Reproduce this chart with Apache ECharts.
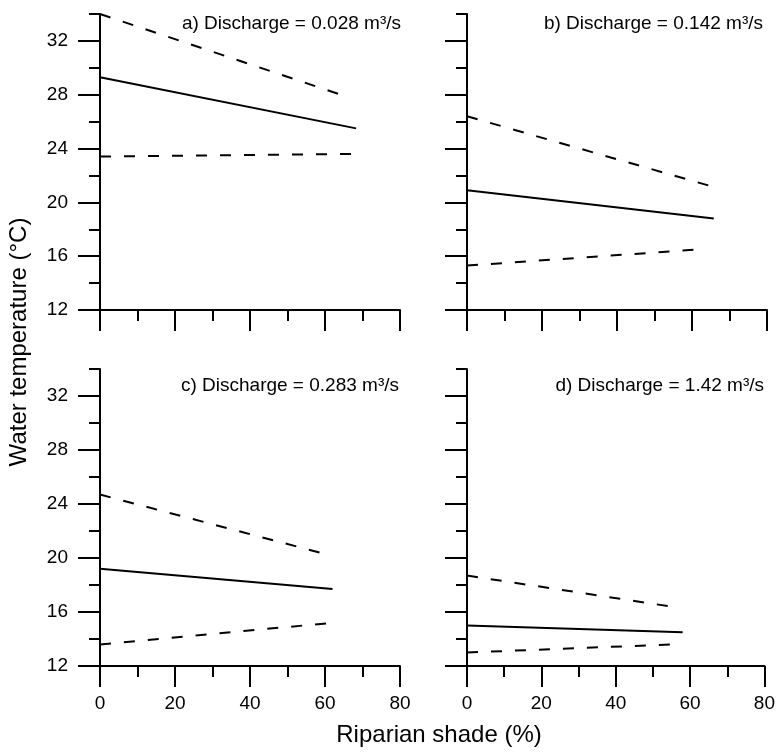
<!DOCTYPE html>
<html>
<head>
<meta charset="utf-8">
<script src="https://cdn.jsdelivr.net/npm/echarts@6/dist/echarts.min.js"></script>
<style>
  html, body { margin: 0; padding: 0; background: #fff; }
  #chart { width: 778px; height: 752px; }
</style>
</head>
<body>
<div id="chart"></div>
<script>
// axis ticks
const xTicks = [0, 20, 40, 60, 80];
const yTicks = [12, 16, 20, 24, 28, 32];
const yMinorTicks = [14, 18, 22, 26, 30, 34];

const panelLabels = [
  "a) Discharge = 0.028 m³/s",
  "b) Discharge = 0.142 m³/s",
  "c) Discharge = 0.283 m³/s",
  "d) Discharge = 1.42 m³/s",
];

// [riparian shade %, water temperature °C]
const upperA = [[0, 34.0], [65.3, 27.9]];
const meanA = [[0, 29.3], [68.3, 25.5]];
const lowerA = [[0, 23.4], [68.3, 23.6]];

const upperB = [[0, 26.4], [65.1, 21.2]];
const meanB = [[0, 20.9], [65.8, 18.8]];
const lowerB = [[0, 15.3], [61.8, 16.5]];

const upperC = [[0, 24.7], [60, 20.3]];
const meanC = [[0, 19.2], [62, 17.7]];
const lowerC = [[0, 13.6], [62, 15.2]];

const upperD = [[0, 18.7], [55, 16.4]];
const meanD = [[0, 15.0], [58, 14.5]];
const lowerD = [[0, 13.0], [55.5, 13.6]];

const panels = [
  [upperA, meanA, lowerA],
  [upperB, meanB, lowerB],
  [upperC, meanC, lowerC],
  [upperD, meanD, lowerD],
];

const font = "Liberation Sans";
const black = "#000";

let myChart = echarts.init(document.getElementById("chart"));

const grids = [
  { left: 100, top: 14, width: 300, height: 296 },
  { left: 467, top: 14, width: 300, height: 296 },
  { left: 100, top: 369, width: 300, height: 297 },
  { left: 467, top: 369, width: 300, height: 297 },
];
const titlePos = [
  { right: 377, top: 14 },
  { right: 15, top: 14 },
  { right: 379, top: 376 },
  { right: 14, top: 376 },
];

let xAxes = [];
let yAxes = [];
let series = [];

grids.forEach((g, i) => {
  xAxes.push({
    type: "value",
    gridIndex: i,
    min: xTicks[0],
    max: xTicks[xTicks.length - 1],
    interval: 20,
    axisLine: { lineStyle: { color: black, width: 2 } },
    axisTick: { length: 21, lineStyle: { color: black, width: 2 } },
    minorTick: { show: true, splitNumber: 2, length: 11, lineStyle: { color: black, width: 2 } },
    axisLabel: {
      show: i >= 2,
      margin: 28,
      color: black,
      fontSize: 19,
      fontFamily: font,
    },
    splitLine: { show: false },
  });
  // major ticks + labels
  yAxes.push({
    type: "value",
    gridIndex: i,
    position: "left",
    min: 12,
    max: 34,
    axisLine: { lineStyle: { color: black, width: 2 } },
    axisTick: { customValues: yTicks, length: 22, lineStyle: { color: black, width: 2 } },
    axisLabel: {
      show: i % 2 === 0,
      customValues: yTicks,
      margin: 32,
      color: black,
      fontSize: 19,
      fontFamily: font,
    },
    splitLine: { show: false },
  });
  // minor ticks
  yAxes.push({
    type: "value",
    gridIndex: i,
    position: "left",
    offset: 0,
    min: 12,
    max: 34,
    axisLine: { show: false },
    axisTick: { show: true, customValues: yMinorTicks, length: 11, lineStyle: { color: black, width: 2 } },
    axisLabel: { show: false },
    splitLine: { show: false },
  });

  const [upper, mean, lower] = panels[i];
  [upper, mean, lower].forEach((d, k) => {
    series.push({
      type: "line",
      xAxisIndex: i,
      yAxisIndex: i * 2,
      symbol: "none",
      silent: true,
      lineStyle: {
        color: black,
        width: 2,
        type: k === 1 ? "solid" : [11, 13],
      },
      data: d,
    });
  });
});

myChart.setOption({
  animation: false,
  backgroundColor: "#fff",
  grid: grids,
  title: panelLabels.map((t, i) => ({
    text: t,
    right: titlePos[i].right,
    top: titlePos[i].top,
    padding: 0,
    textStyle: { color: black, fontSize: 19, fontWeight: "normal", fontFamily: font },
  })),
  xAxis: xAxes,
  yAxis: yAxes,
  series: series,
  graphic: [
    {
      type: "text",
      x: 439,
      y: 735,
      style: {
        text: "Riparian shade (%)",
        fill: black,
        font: "24px '" + font + "'",
        textAlign: "center",
        textVerticalAlign: "middle",
      },
    },
    {
      type: "text",
      x: 19,
      y: 342,
      rotation: Math.PI / 2,
      style: {
        text: "Water temperature (°C)",
        fill: black,
        font: "24px '" + font + "'",
        textAlign: "center",
        textVerticalAlign: "middle",
      },
    },
  ],
});
</script>
</body>
</html>
